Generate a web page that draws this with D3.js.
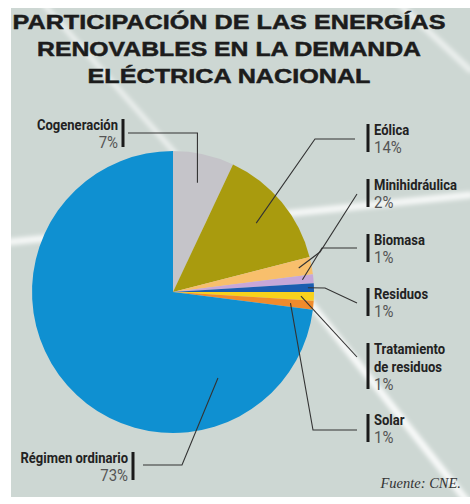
<!DOCTYPE html>
<html>
<head>
<meta charset="utf-8">
<script src="https://cdn.jsdelivr.net/npm/d3@7"></script>
<style>
  body { margin: 0; background: #ffffff; }
  svg { display: block; }
</style>
</head>
<body>
<svg id="chart" width="470" height="504"></svg>
<script>
// ---- data ----
const titleLines = ["PARTICIPACIÓN DE LAS ENERGÍAS", "RENOVABLES EN LA DEMANDA", "ELÉCTRICA NACIONAL"];
const categories = ["Cogeneración", "Eólica", "Minihidráulica", "Biomasa", "Residuos",
                    "Tratamiento de residuos", "Solar", "Régimen ordinario"];
const shares = [7, 14, 2, 1, 1, 1, 1, 73];
const sourceNote = "Fuente: CNE.";

// ---- styling ----
const sliceColors = ["#c5c4c9", "#a99b0e", "#f8bf6c", "#c7a7d8", "#1b5db0", "#f8d21c", "#f08b2c", "#0f90d1"];
const bgColor = "#cdd7d3";
const labelFont = "Roboto, 'Liberation Sans', sans-serif";
const nameSqueeze = 0.84;    // horizontal squeeze for the narrow label face
const pctSqueeze = 0.88;
const titleWidths = [433, 384, 283];

// label placement: name lines, bar/side, first baseline, leader anchor (radius, fraction of slice), leader route
const labelLayout = [
  { side: "left",  x: 123, y: 130, lines: ["Cogeneración"],              r: 112, f: 0.5,  route: [[128, 133], ["ax", 133]] },
  { side: "right", x: 368, y: 135, lines: ["Eólica"],                    r: 108, f: 0.5,  route: [[355, 139], [315, 139]] },
  { side: "right", x: 368, y: 190, lines: ["Minihidráulica"],            r: 128, f: 0.5,  route: [[357, 194], [320, 252]] },
  { side: "right", x: 368, y: 245, lines: ["Biomasa"],                   r: 130, f: 0.5,  route: [[357, 248], [322, 248]] },
  { side: "right", x: 368, y: 299, lines: ["Residuos"],                  r: 135, f: 0.5,  route: [[357, 303], [325, 288]] },
  { side: "right", x: 368, y: 354, lines: ["Tratamiento", "de residuos"], r: 128, f: 0.5,  route: [[357, 357]] },
  { side: "right", x: 368, y: 425, lines: ["Solar"],                     r: 118, f: 0.5,  route: [[357, 430], [313, 430]] },
  { side: "left",  x: 133, y: 463, lines: ["Régimen ordinario"],         r: 97,  f: 0.21, route: [[143, 465], [182, 465]] }
];

const W = 470, H = 504;
const cx = 173, cy = 292, R = 141;
const lineGap = 18;

const svg = d3.select("#chart");
const defs = svg.append("defs");
defs.append("filter").attr("id", "soft")
  .attr("x", "-20%").attr("y", "-20%").attr("width", "140%").attr("height", "140%")
  .append("feGaussianBlur").attr("stdDeviation", 2.2);

// panel background
svg.append("rect").attr("x", 11).attr("y", 8).attr("width", W - 11).attr("height", 489).attr("fill", bgColor);

// light streaks across the panel
const clip = defs.append("clipPath").attr("id", "panel");
clip.append("rect").attr("x", 11).attr("y", 8).attr("width", W - 11).attr("height", 489);
const streaks = svg.append("g").attr("clip-path", "url(#panel)").attr("filter", "url(#soft)");
const streakLines = [
  { p: [[40, 0], [190, 170]], w: 5, o: 0.6 },
  { p: [[0, 243], [470, 195]], w: 7, o: 0.8 },
  { p: [[300, 290], [470, 505]], w: 7, o: 0.85 },
  { p: [[395, 0], [470, 70]], w: 6, o: 0.6 }
];
streaks.selectAll("line").data(streakLines).join("line")
  .attr("x1", d => d.p[0][0]).attr("y1", d => d.p[0][1])
  .attr("x2", d => d.p[1][0]).attr("y2", d => d.p[1][1])
  .attr("stroke", "#ffffff").attr("stroke-width", d => d.w).attr("stroke-opacity", d => d.o)
  .attr("stroke-linecap", "round");

// title
svg.append("g").selectAll("text").data(titleLines).join("text")
  .attr("x", 229).attr("y", (d, i) => 29 + i * 27)
  .attr("text-anchor", "middle")
  .attr("font-family", "'Liberation Sans', Arial, sans-serif")
  .attr("font-weight", 700).attr("font-size", 21)
  .attr("textLength", (d, i) => titleWidths[i])
  .attr("lengthAdjust", "spacingAndGlyphs")
  .attr("fill", "#1c1c1c")
  .attr("stroke", "#1c1c1c").attr("stroke-width", 0.5)
  .text(d => d);

// pie
const data = categories.map((c, i) => ({ name: c, value: shares[i], color: sliceColors[i], layout: labelLayout[i] }));
const pie = d3.pie().sort(null).value(d => d.value).startAngle(0).endAngle(2 * Math.PI);
const arcs = pie(data);
const arc = d3.arc().innerRadius(0).outerRadius(R);

const pieG = svg.append("g").attr("transform", `translate(${cx},${cy})`);
pieG.selectAll("path").data(arcs).join("path")
  .attr("d", arc)
  .attr("fill", d => d.data.color);

// leader lines
function anchorOf(a) {
  const L = a.data.layout;
  const ang = a.startAngle + (a.endAngle - a.startAngle) * L.f;
  return [cx + L.r * Math.sin(ang), cy - L.r * Math.cos(ang)];
}
const lineGen = d3.line();
svg.append("g").selectAll("path").data(arcs).join("path")
  .attr("d", a => {
    const [ax, ay] = anchorOf(a);
    const pts = a.data.layout.route.map(p => [p[0] === "ax" ? ax : p[0], p[1]]);
    pts.push([ax, ay]);
    return lineGen(pts);
  })
  .attr("fill", "none").attr("stroke", "#333333").attr("stroke-width", 1.1);

// labels
const labels = svg.append("g").selectAll("g").data(arcs).join("g");
labels.each(function (a) {
  const g = d3.select(this);
  const L = a.data.layout;
  const n = L.lines.length;
  const top = L.y - 11;
  const bottom = L.y + n * lineGap - 1;
  g.append("rect")
    .attr("x", L.x - 1.5).attr("y", top).attr("width", 3).attr("height", bottom - top)
    .attr("fill", "#1a1a1a");
  const tx = L.side === "left" ? L.x - 5 : L.x + 6;
  const anchor = L.side === "left" ? "end" : "start";
  const names = g.append("g").attr("transform", `translate(${tx},0) scale(${nameSqueeze},1)`);
  L.lines.forEach((ln, i) => {
    names.append("text")
      .attr("x", 0).attr("y", L.y + i * lineGap)
      .attr("text-anchor", anchor)
      .attr("font-family", labelFont).attr("font-weight", 700).attr("font-size", 15.5)
      .attr("fill", "#222222")
      .text(ln);
  });
  g.append("g").attr("transform", `translate(${tx},0) scale(${pctSqueeze},1)`)
    .append("text")
    .attr("x", 0).attr("y", L.y + n * lineGap)
    .attr("text-anchor", anchor)
    .attr("font-family", labelFont).attr("font-size", 17)
    .attr("fill", "#555555")
    .text(a.data.value + "%");
});

// source note
svg.append("text")
  .attr("x", 461).attr("y", 488).attr("text-anchor", "end")
  .attr("font-family", "'Liberation Serif', 'Times New Roman', serif")
  .attr("font-style", "italic").attr("font-size", 14.5)
  .attr("fill", "#333333")
  .text(sourceNote);
</script>
</body>
</html>
